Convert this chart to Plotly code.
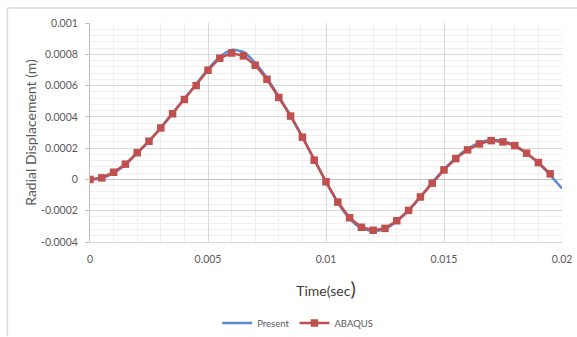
import plotly.graph_objects as go

# Time (s) for both series
t_present = [0, 0.0005, 0.001, 0.0015, 0.002, 0.0025, 0.003, 0.0035, 0.004, 0.0045,
             0.005, 0.0055, 0.006, 0.0065, 0.007, 0.0075, 0.008, 0.0085, 0.009, 0.0095,
             0.01, 0.0105, 0.011, 0.0115, 0.012, 0.0125, 0.013, 0.0135, 0.014, 0.0145,
             0.015, 0.0155, 0.016, 0.0165, 0.017, 0.0175, 0.018, 0.0185, 0.019, 0.0195, 0.02]
present = [0, 0.000008, 0.00004, 0.000095, 0.000168, 0.000245, 0.000332, 0.000425, 0.000518, 0.00061,
           0.000705, 0.000785, 0.000828, 0.000815, 0.000745, 0.000648, 0.00053, 0.000408, 0.000272, 0.000128,
           -0.000015, -0.00015, -0.00025, -0.000312, -0.00033, -0.000318, -0.000268, -0.0002, -0.000112, -0.00002,
           0.000065, 0.000138, 0.000195, 0.000235, 0.000252, 0.000245, 0.000218, 0.000168, 0.000105, 0.000028, -0.000058]

t_abaqus = [0, 0.0005, 0.001, 0.0015, 0.002, 0.0025, 0.003, 0.0035, 0.004, 0.0045,
            0.005, 0.0055, 0.006, 0.0065, 0.007, 0.0075, 0.008, 0.0085, 0.009, 0.0095,
            0.01, 0.0105, 0.011, 0.0115, 0.012, 0.0125, 0.013, 0.0135, 0.014, 0.0145,
            0.015, 0.0155, 0.016, 0.0165, 0.017, 0.0175, 0.018, 0.0185, 0.019, 0.0195]
abaqus = [0, 0.00001, 0.000046, 0.0000975, 0.000171, 0.000244, 0.000329, 0.00042, 0.000511, 0.0006,
          0.000698, 0.000775, 0.000808, 0.00079, 0.00073, 0.00064, 0.000524, 0.000405, 0.00027, 0.000123,
          -0.000015, -0.000145, -0.000245, -0.000306, -0.000325, -0.000313, -0.000264, -0.000198, -0.000112, -0.000024,
          0.000061, 0.000133, 0.000189, 0.000227, 0.000248, 0.00024, 0.000216, 0.000168, 0.000108, 0.000036]

x_ticks = [0, 0.005, 0.01, 0.015, 0.02]
x_ticklabels = ["0", "0.005", "0.01", "0.015", "0.02"]
y_ticks = [-0.0004, -0.0002, 0, 0.0002, 0.0004, 0.0006, 0.0008, 0.001]
y_ticklabels = ["-0.0004", "-0.0002", "0", "0.0002", "0.0004", "0.0006", "0.0008", "0.001"]

BLUE = "#5B8BD0"
RED = "#C0504D"
TXT = "#595959"
FONT = "Lato, 'Open Sans', sans-serif"

fig = go.Figure()
fig.add_trace(go.Scatter(x=t_present, y=present, mode="lines", name="Present",
                         line=dict(color=BLUE, width=2.5, shape="spline", smoothing=0.6)))
fig.add_trace(go.Scatter(x=t_abaqus, y=abaqus, mode="lines+markers", name="ABAQUS",
                         line=dict(color=RED, width=2.5),
                         marker=dict(symbol="square", size=7.5, color=RED)))

fig.update_layout(
    width=577, height=337,
    margin=dict(l=90, r=15, t=23, b=95, autoexpand=False),
    paper_bgcolor="white", plot_bgcolor="white",
    font=dict(family=FONT, color=TXT, size=10),
    showlegend=True,
    legend=dict(orientation="h", x=0.44, xanchor="center", y=-0.37, yanchor="middle",
                font=dict(size=9.5, color=TXT), tracegroupgap=0),
    xaxis=dict(range=[0, 0.02], tickvals=x_ticks, ticktext=x_ticklabels,
               showgrid=True, gridcolor="#D9D9D9", gridwidth=1,
               minor=dict(dtick=0.001, showgrid=True, gridcolor="#EFEFEF", gridwidth=1),
               zeroline=False, showline=True, linecolor="#D9D9D9", mirror=False,
               ticks="outside", ticklen=7, tickcolor="rgba(0,0,0,0)",
               tickfont=dict(size=10.5, color=TXT), automargin=False,
               title=dict(text="Time(sec<span style='font-size:20px'>)</span>",
                          font=dict(size=14, color="#404040"), standoff=22)),
    yaxis=dict(range=[-0.0004, 0.001], tickvals=y_ticks, ticktext=y_ticklabels,
               showgrid=True, gridcolor="#D9D9D9", gridwidth=1,
               minor=dict(dtick=0.00004, showgrid=True, gridcolor="#EFEFEF", gridwidth=1),
               zeroline=True, zerolinecolor="#BFBFBF", zerolinewidth=1,
               showline=True, linecolor="#BFBFBF", ticks="outside", ticklen=4, tickcolor="#BFBFBF",
               ticklabelstandoff=5,
               tickfont=dict(size=10.5, color=TXT), automargin=False,
               title=dict(text="Radial Displacement (m)", font=dict(size=14, color=TXT), standoff=1)),
)

# outer chart border (top and left edges)
fig.add_shape(type="line", xref="paper", yref="paper", x0=-0.175, x1=1.04, y0=1.068, y1=1.068,
              line=dict(color="#D9D9D9", width=1.5))
fig.add_shape(type="line", xref="paper", yref="paper", x0=-0.175, x1=-0.175, y0=1.068, y1=-0.43,
              line=dict(color="#D9D9D9", width=1.5))

fig.write_html("out.html")
